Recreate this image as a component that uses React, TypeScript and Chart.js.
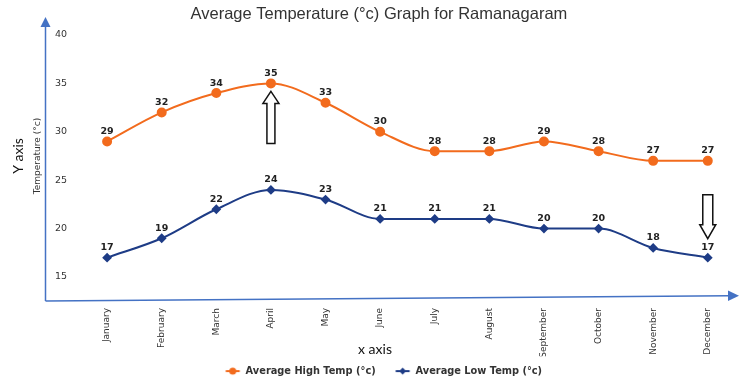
import React, { useEffect, useRef } from "react";
import { Chart, registerables } from "chart.js";

Chart.register(...registerables);

// Monthly averages for Ramanagaram
const months = [
  "January", "February", "March", "April", "May", "June",
  "July", "August", "September", "October", "November", "December",
];
const highTemps = [29, 32, 34, 35, 33, 30, 28, 28, 29, 28, 27, 27];
const lowTemps = [17, 19, 22, 24, 23, 21, 21, 21, 20, 20, 18, 17];
const yTicks = [15, 20, 25, 30, 35, 40];

const HIGH_COLOR = "#F26B1D";
const LOW_COLOR = "#1E3C86";
const AXIS_BLUE = "#4472C4";
const TEXT_DARK = "#333333";
const PAD_LEFT = 18;

// legend symbol: a short line with the series marker on it, drawn in the
// right-hand part of a wider transparent canvas so the items sit further apart
function makeMarker(color: string, diamond: boolean): HTMLCanvasElement {
  const c = document.createElement("canvas");
  c.width = 34;
  c.height = 10;
  const ctx = c.getContext("2d")!;
  const x0 = 14.5;
  const x1 = 28.5;
  const cx = (x0 + x1) / 2;
  ctx.strokeStyle = color;
  ctx.fillStyle = color;
  ctx.lineWidth = 2;
  ctx.beginPath();
  ctx.moveTo(x0, 5);
  ctx.lineTo(x1, 5);
  ctx.stroke();
  ctx.beginPath();
  if (diamond) {
    ctx.moveTo(cx, 1.5);
    ctx.lineTo(cx + 3.5, 5);
    ctx.lineTo(cx, 8.5);
    ctx.lineTo(cx - 3.5, 5);
    ctx.closePath();
  } else {
    ctx.arc(cx, 5, 3.5, 0, Math.PI * 2);
  }
  ctx.fill();
  return c;
}

// value printed above every point
const valueLabels = {
  id: "valueLabels",
  afterDatasetsDraw(chart: any) {
    const { ctx } = chart;
    ctx.save();
    ctx.font = "bold 9.5px 'DejaVu Sans'";
    ctx.fillStyle = "#222222";
    ctx.textAlign = "center";
    ctx.textBaseline = "middle";
    chart.data.datasets.forEach((ds: any, di: number) => {
      const meta = chart.getDatasetMeta(di);
      meta.data.forEach((pt: any, i: number) => {
        ctx.fillText(String(ds.data[i]), pt.x, pt.y - 10);
      });
    });
    ctx.restore();
  },
};

function blockArrow(ctx: CanvasRenderingContext2D, cx: number, tail: number, tip: number, headLen: number, headHalf: number, shaftHalf: number) {
  const dir = tip < tail ? -1 : 1;
  const headBase = tip - dir * headLen;
  ctx.beginPath();
  ctx.moveTo(cx, tip);
  ctx.lineTo(cx + headHalf, headBase);
  ctx.lineTo(cx + shaftHalf, headBase);
  ctx.lineTo(cx + shaftHalf, tail);
  ctx.lineTo(cx - shaftHalf, tail);
  ctx.lineTo(cx - shaftHalf, headBase);
  ctx.lineTo(cx - headHalf, headBase);
  ctx.closePath();
  ctx.fillStyle = "#ffffff";
  ctx.fill();
  ctx.strokeStyle = "#111111";
  ctx.lineWidth = 1.5;
  ctx.stroke();
}

// axis arrows, axis captions and the highlight arrows
const decorations = {
  id: "decorations",
  afterDraw(chart: any) {
    const { ctx } = chart;
    const x = chart.scales.x;
    const y = chart.scales.y;
    ctx.save();

    // y axis arrow
    ctx.strokeStyle = AXIS_BLUE;
    ctx.fillStyle = AXIS_BLUE;
    ctx.lineWidth = 1.5;
    ctx.beginPath();
    ctx.moveTo(45.5, 301);
    ctx.lineTo(45.5, 26);
    ctx.stroke();
    ctx.beginPath();
    ctx.moveTo(45.5, 17);
    ctx.lineTo(50.5, 27);
    ctx.lineTo(40.5, 27);
    ctx.closePath();
    ctx.fill();

    // x axis arrow
    ctx.beginPath();
    ctx.moveTo(45.5, 301);
    ctx.lineTo(729, 295.8);
    ctx.stroke();
    ctx.beginPath();
    ctx.moveTo(739, 295.7);
    ctx.lineTo(728, 290.5);
    ctx.lineTo(728, 301);
    ctx.closePath();
    ctx.fill();

    // axis captions
    ctx.fillStyle = "#111111";
    ctx.font = "14px Lato";
    ctx.textAlign = "center";
    ctx.textBaseline = "middle";
    ctx.fillText("x axis", 375, 349);
    ctx.save();
    ctx.translate(18, 156);
    ctx.rotate(-Math.PI / 2);
    ctx.fillText("Y axis", 0, 0);
    ctx.restore();

    // highlight arrows: warmest month and coolest month
    const aprX = x.getPixelForValue(3);
    const aprY = y.getPixelForValue(highTemps[3]);
    blockArrow(ctx, aprX, aprY + 60, aprY + 8, 12, 8, 4);
    const decX = x.getPixelForValue(11);
    const decY = y.getPixelForValue(lowTemps[11]);
    blockArrow(ctx, decX, decY - 63, decY - 19, 14, 8, 5);

    ctx.restore();
  },
};

export default function App() {
  const canvasRef = useRef<HTMLCanvasElement>(null);

  useEffect(() => {
    if (!canvasRef.current) return;
    const markers = [makeMarker(HIGH_COLOR, false), makeMarker(LOW_COLOR, true)];

    const chart = new Chart(canvasRef.current, {
      type: "line",
      data: {
        labels: months,
        datasets: [
          {
            label: "Average High Temp (°c)",
            data: highTemps,
            borderColor: HIGH_COLOR,
            backgroundColor: HIGH_COLOR,
            borderWidth: 2,
            pointStyle: "circle",
            pointRadius: 4,
            pointBackgroundColor: HIGH_COLOR,
            pointBorderColor: HIGH_COLOR,
            cubicInterpolationMode: "monotone",
          },
          {
            label: "Average Low Temp (°c)",
            data: lowTemps,
            borderColor: LOW_COLOR,
            backgroundColor: LOW_COLOR,
            borderWidth: 2,
            pointStyle: "rectRot",
            pointRadius: 3.5,
            pointBackgroundColor: LOW_COLOR,
            pointBorderColor: LOW_COLOR,
            cubicInterpolationMode: "monotone",
          },
        ],
      },
      options: {
        responsive: false,
        animation: false,
        devicePixelRatio: 1,
        layout: { padding: { left: PAD_LEFT, right: 10.2, top: 0, bottom: 0 } },
        plugins: {
          title: {
            display: true,
            text: "Average Temperature (°c) Graph for Ramanagaram",
            color: TEXT_DARK,
            font: { family: "'Liberation Sans'", size: 16.5, weight: "normal" },
            padding: { top: 4.1, bottom: 11.1 },
          },
          legend: {
            display: true,
            position: "bottom",
            labels: {
              usePointStyle: true,
              pointStyleWidth: 25,
              padding: 10,
              color: TEXT_DARK,
              font: { family: "'DejaVu Sans'", size: 9.8, weight: "bold" },
              generateLabels: (c: any) => {
                const items = (Chart.defaults.plugins.legend.labels as any).generateLabels(c);
                return items.map((it: any, i: number) => ({ ...it, pointStyle: markers[i] }));
              },
            },
          },
          tooltip: { enabled: false },
        },
        scales: {
          x: {
            type: "category",
            offset: true,
            grid: { display: false, drawTicks: false },
            border: { display: false },
            ticks: {
              autoSkip: false,
              minRotation: 90,
              maxRotation: 90,
              padding: 31,
              color: TEXT_DARK,
              font: { family: "'DejaVu Sans'", size: 9 },
            },
            afterFit: (scale: any) => {
              scale.height = 79.2;
            },
          },
          y: {
            min: 15,
            max: 40,
            grid: { display: false, drawTicks: false },
            border: { display: false },
            ticks: {
              padding: 12.8,
              color: TEXT_DARK,
              font: { family: "'DejaVu Sans'", size: 9.5 },
            },
            afterBuildTicks: (scale: any) => {
              scale.ticks = yTicks.map((v) => ({ value: v }));
            },
            title: {
              display: true,
              text: "Temperature (°c)",
              color: TEXT_DARK,
              font: { family: "'DejaVu Sans'", size: 9 },
              padding: { top: 14.6, bottom: 0 },
            },
            afterFit: (scale: any) => {
              scale.width = 79.8 - PAD_LEFT;
            },
          },
        },
      },
      plugins: [valueLabels, decorations],
    });

    return () => chart.destroy();
  }, []);

  return (
    <div style={{ position: "absolute", left: 0, top: 0, width: 750, height: 386, background: "#ffffff" }}>
      <canvas ref={canvasRef} width={750} height={386} style={{ display: "block" }} />
    </div>
  );
}
